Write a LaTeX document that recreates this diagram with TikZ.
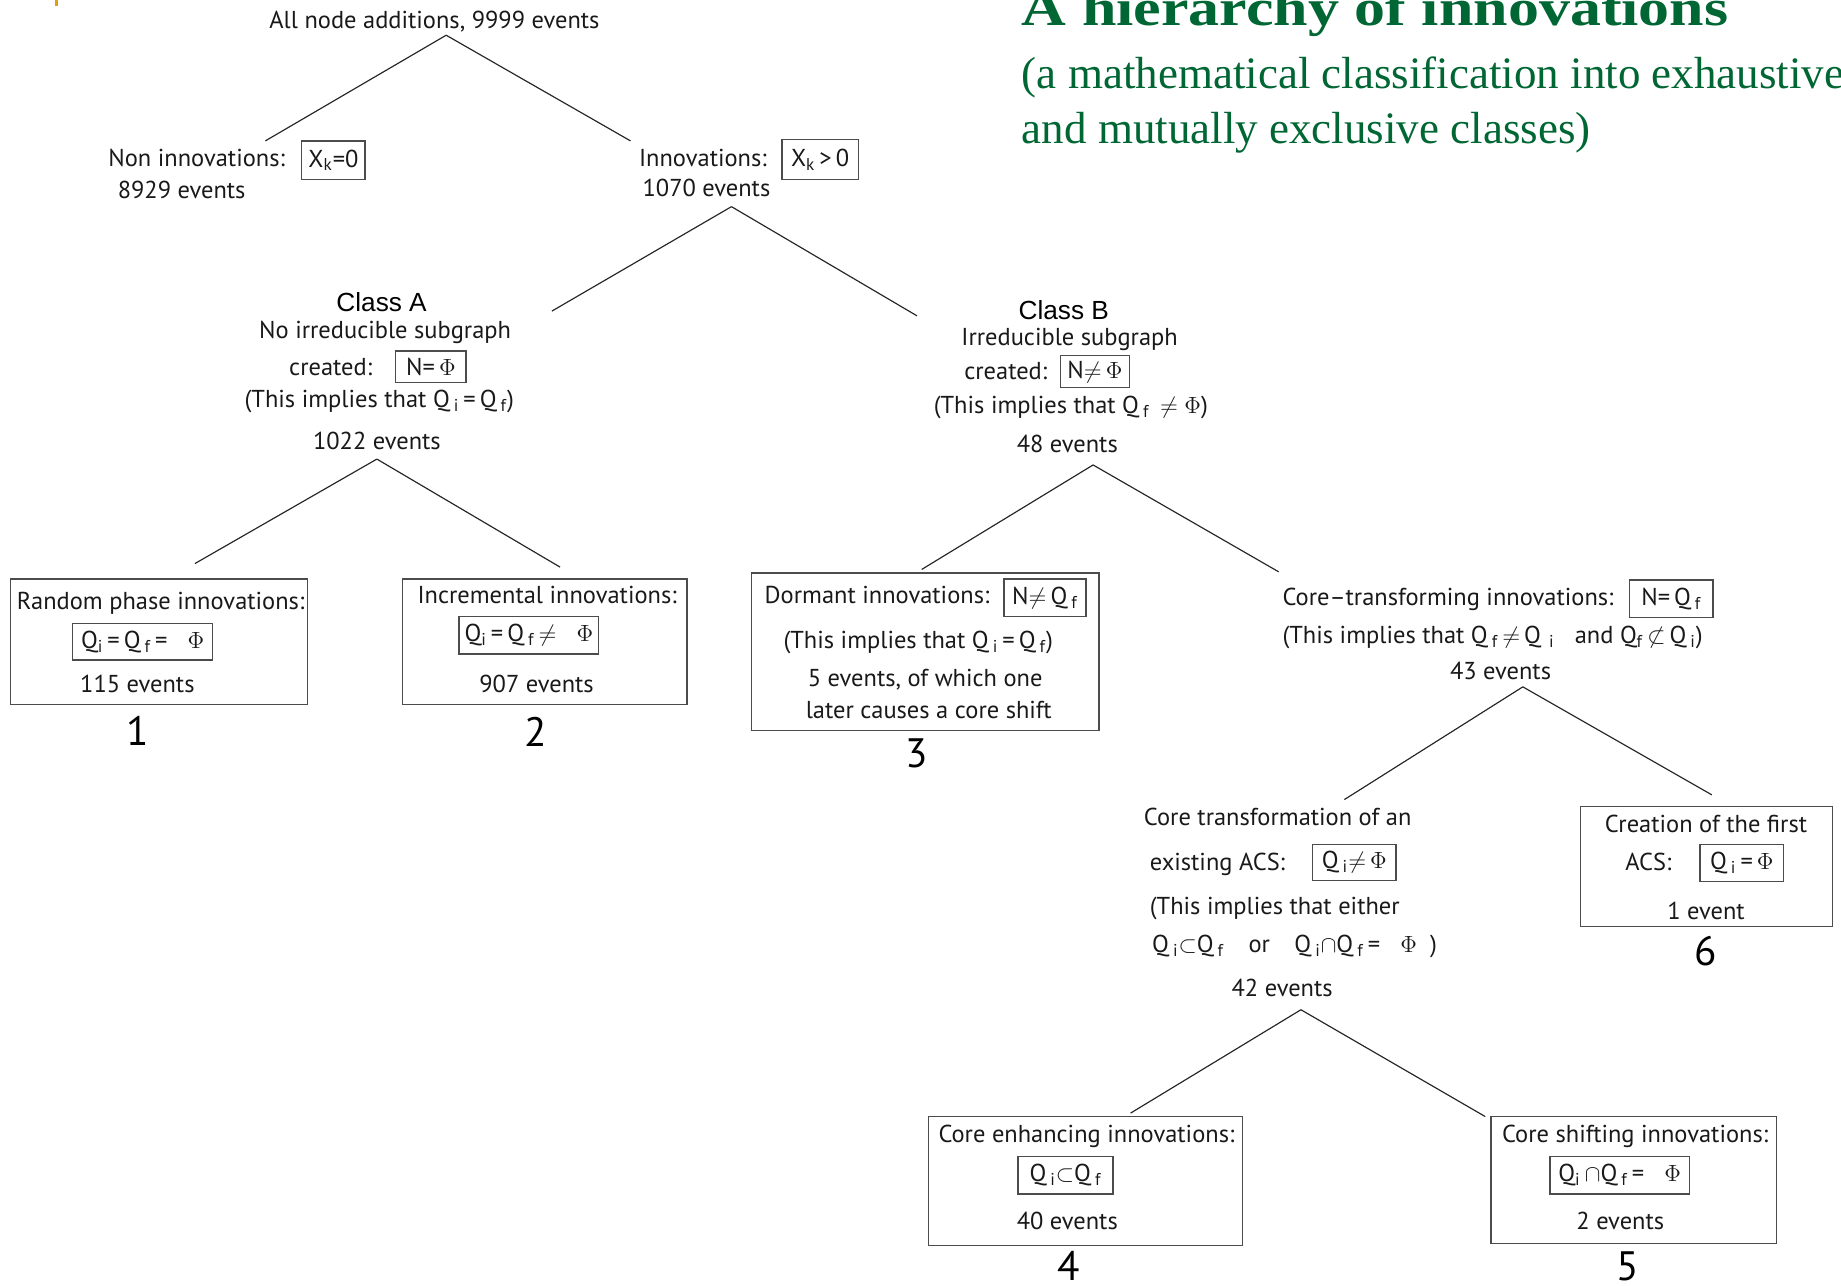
\documentclass[tikz,border=0pt]{standalone}
\usepackage[no-math]{fontspec}
\setmainfont{PT Sans}
\newfontfamily\classfont{Liberation Sans}
\newfontfamily\headfont{Liberation Serif}
\definecolor{headgreen}{HTML}{006633}
\definecolor{markgold}{HTML}{E0A010}
\newcommand{\lw}[1]{\textsubscript{#1}}

\tikzset{
  x=0.6pt, y=-0.6pt,
  txt/.style={inner sep=0pt, text=black!90, font=\fontsize{12.5}{14}\selectfont},
  lbl/.style={txt, anchor=base},
  lbll/.style={txt, anchor=base west},
  cls/.style={inner sep=0pt, anchor=base, font=\classfont\fontsize{13.4}{15}\selectfont},
  num/.style={inner sep=0pt, anchor=base, font=\fontsize{21}{24}\selectfont},
  sz/.style n args={2}{minimum width=#1*0.6pt, minimum height=#2*0.6pt},
  fbox/.style={draw=black!70, line width=0.7pt, inner sep=0pt, text=black!90,
               font=\fontsize{12.5}{14}\selectfont},
  panel/.style={draw=black!70, line width=0.7pt, inner sep=0pt},
  branch/.style={draw=black!85, line width=0.6pt},
}

\begin{document}
\begin{tikzpicture}
\useasboundingbox (0,0) rectangle (1568,1095);
\fill[markgold] (46.5,0) rectangle (49,5);

% heading
\node[anchor=base west, inner sep=0pt, text=headgreen,
      font=\headfont\bfseries\fontsize{26.4}{30}\selectfont] (title) at (870,22)
      {\scalebox{1.2}[1]{A hierarchy of innovations}};
\node[anchor=base west, inner sep=0pt, text=headgreen,
      font=\headfont\fontsize{23}{26}\selectfont] (sub1) at (870,75)
      {(a mathematical classification into exhaustive};
\node[anchor=base west, inner sep=0pt, text=headgreen,
      font=\headfont\fontsize{23}{26}\selectfont] (sub2) at (870,122)
      {and mutually exclusive classes)};

% level 0
\node[lbl] (root) at (370,24) {All node additions, 9999 events};
\coordinate (rootA) at (380,30);
\coordinate (niT) at (226,120);
\coordinate (inT) at (537,120);
\draw[branch] (rootA) -- (niT);
\draw[branch] (rootA) -- (inT);

% level 1
\node[lbll] (ni) at (92,142) {Non innovations:};
\node[fbox, sz={54}{33}] (niF) at (284,136.5) {X\lw{k}=0};
\node[lbll] (niN) at (100,169) {8929 events};

\node[lbll] (in) at (544,142) {Innovations:};
\node[fbox, sz={65}{34}] (inF) at (698.5,136) {X\lw{k}\,>\,0};
\node[lbll] (inN) at (547,167) {1070 events};
\coordinate (inA) at (623,176);
\coordinate (caT) at (470,265);
\coordinate (cbT) at (781,269);
\draw[branch] (inA) -- (caT);
\draw[branch] (inA) -- (cbT);

% class A
\node[cls] (ca) at (325,265) {Class A};
\node[lbl] (ca1) at (328,288) {No irreducible subgraph};
\node[lbll] (ca2) at (246,320) {created:};
\node[fbox, sz={60}{27}] (caF) at (367,312.5) {N=\,$\Phi$};
\node[lbll] (ca3) at (208,347) {(This implies that Q\,\lw{i}\,=\,Q\,\lw{f})};
\node[lbl] (caN) at (321,383) {1022 events};
\coordinate (caA) at (321,391);
\coordinate (b1T) at (166,480);
\coordinate (b2T) at (477,483);
\draw[branch] (caA) -- (b1T);
\draw[branch] (caA) -- (b2T);

% class B
\node[cls] (cb) at (906,272) {Class B};
\node[lbl] (cb1) at (911,294) {Irreducible subgraph};
\node[lbll] (cb2) at (821,323) {created:};
\node[fbox, sz={59}{27}] (cbF) at (932.5,316.5) {N$\neq$\,$\Phi$};
\node[lbll] (cb3) at (795,352) {(This implies that Q\,\lw{f}\, $\neq$ $\Phi$)};
\node[lbl] (cbN) at (909,385) {48 events};
\coordinate (cbA) at (931,396);
\coordinate (b3T) at (785,485);
\coordinate (ctT) at (1089,487);
\draw[branch] (cbA) -- (b3T);
\draw[branch] (cbA) -- (ctT);

% 1: random phase
\node[panel, sz={253}{107}] (b1) at (135.5,546.5) {};
\node[lbll] (b1t) at (14,519) {Random phase innovations:};
\node[fbox, sz={119}{31}] (b1F) at (121.5,546.5) {Q\lw{i}\,=\,Q\,\lw{f}\,=\;\; $\Phi$};
\node[lbl] (b1N) at (117,590) {115 events};
\node[num] (n1) at (117,635) {1};

% 2: incremental
\node[panel, sz={242}{107}] (b2) at (464,546.5) {};
\node[lbl] (b2t) at (466,514) {Incremental innovations:};
\node[fbox, sz={119}{32}] (b2F) at (450.5,541) {Q\lw{i}\,=\,Q\,\lw{f}\,$\neq$\;\; $\Phi$};
\node[lbl] (b2N) at (457,590) {907 events};
\node[num] (n2) at (456,636) {2};

% 3: dormant
\node[panel, sz={296}{134}] (b3) at (788,555) {};
\node[lbll] (b3t) at (651,514) {Dormant innovations:};
\node[fbox, sz={70}{32}] (b3F) at (890,509) {N$\neq$\,Q\,\lw{f}};
\node[lbll] (b3a) at (667,552) {(This implies that Q\,\lw{i}\,=\,Q\,\lw{f})};
\node[lbl] (b3b) at (788,585) {5 events, of which one};
\node[lbl] (b3c) at (791,612) {later causes a core shift};
\node[num] (n3) at (781,654) {3};

% core-transforming
\node[lbll] (ct) at (1092,516) {Core--transforming innovations:};
\node[fbox, sz={71}{32}] (ctF) at (1423.5,510) {N=\,Q\,\lw{f}};
\node[lbll] (ct1) at (1092,548) {(This implies that Q\,\lw{f}\,$\neq$\,Q\,\,\lw{i}\;\; and Q\lw{f}\,$\not\subset$\,Q\,\lw{i})};
\node[lbl] (ctN) at (1278,579) {43 events};
\coordinate (ctA) at (1297,585);
\coordinate (tfT) at (1145,681);
\coordinate (b6T) at (1458,677);
\draw[branch] (ctA) -- (tfT);
\draw[branch] (ctA) -- (b6T);

% core transformation of an existing ACS
\node[lbll] (tf) at (974,703) {Core transformation of an};
\node[lbll] (tf1) at (979,741) {existing ACS:};
\node[fbox, sz={71}{31}] (tfF) at (1153.5,734.5) {Q\,\lw{i}$\neq$\,$\Phi$};
\node[lbll] (tf2) at (979,779) {(This implies that either};
\node[lbll] (tf3) at (981,811) {Q\,\lw{i}$\subset$Q\,\lw{f}\quad or\quad Q\,\lw{i}$\cap$Q\,\lw{f}\,=\;\; $\Phi$\; )};
\node[lbl] (tfN) at (1092,849) {42 events};
\coordinate (tfA) at (1108,860);
\coordinate (b4T) at (963,948);
\coordinate (b5T) at (1265,951);
\draw[branch] (tfA) -- (b4T);
\draw[branch] (tfA) -- (b5T);

% 6: creation of the first ACS
\node[panel, sz={215}{102}] (b6) at (1453.5,738) {};
\node[lbl] (b6t) at (1453,709) {Creation of the first};
\node[lbll] (b6a) at (1384,741) {ACS:};
\node[fbox, sz={71}{32}] (b6F) at (1483.5,735) {Q\,\lw{i}\,=\,$\Phi$};
\node[lbl] (b6N) at (1453,783) {1 event};
\node[num] (n6) at (1453,822) {6};

% 4: core enhancing
\node[panel, sz={267}{110}] (b4) at (924.5,1006) {};
\node[lbll] (b4t) at (799,973) {Core enhancing innovations:};
\node[fbox, sz={81}{32}] (b4F) at (907.5,1001) {Q\,\lw{i}$\subset$Q\,\lw{f}};
\node[lbl] (b4N) at (909,1047) {40 events};
\node[num] (n4) at (910,1091) {4};

% 5: core shifting
\node[panel, sz={243}{108}] (b5) at (1391.5,1005) {};
\node[lbll] (b5t) at (1279,973) {Core shifting innovations:};
\node[fbox, sz={119}{32}] (b5F) at (1379.5,1001) {Q\lw{i}\,$\cap$Q\,\lw{f}\,=\;\; $\Phi$};
\node[lbl] (b5N) at (1380,1047) {2 events};
\node[num] (n5) at (1386,1091) {5};
\end{tikzpicture}
\end{document}
